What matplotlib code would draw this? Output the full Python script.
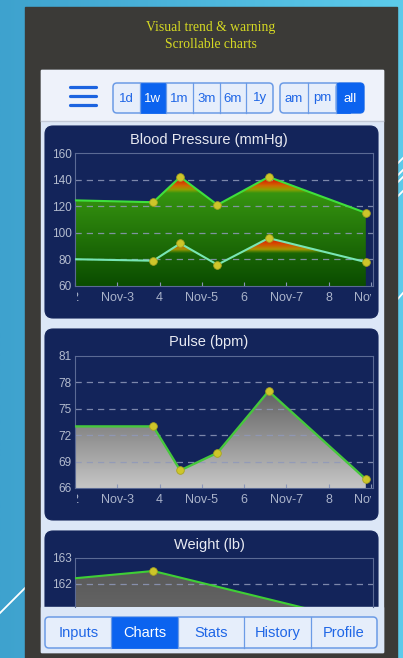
import numpy as np
import matplotlib.pyplot as plt
from matplotlib.patches import Rectangle, FancyBboxPatch
from matplotlib.colors import to_rgba
from matplotlib.transforms import Bbox, TransformedBbox

W, H = 403, 658

# data (x = day of November)
days = [1.2, 3.85, 4.49, 5.37, 6.58, 8.88]
systolic = [125, 123, 142, 121, 142, 115]
diastolic = [80.6, 79, 92, 76, 96, 78]
pulse = [73, 73, 68, 70, 77, 67]
weight_days = [1.2, 3.85, 8.88]
weight = [162.1, 162.5, 160.5]

x_ticks = [2, 3, 4, 5, 6, 7, 8, 9]
x_labels = ['2', 'Nov-3', '4', 'Nov-5', '6', 'Nov-7', '8', 'Nov-9']
bp_ticks = [60, 80, 100, 120, 140, 160]
pulse_ticks = [66, 69, 72, 75, 78, 81]
weight_ticks = [161, 162, 163]

ranges = ['1d', '1w', '1m', '3m', '6m', '1y']
dayparts = ['am', 'pm', 'all']
tabs = ['Inputs', 'Charts', 'Stats', 'History', 'Profile']

SANS = 'Liberation Sans'
BLUE = '#0b63ef'
NAVY = '#13245a'

fig = plt.figure(figsize=(W / 100, H / 100), dpi=100)
bg = fig.add_axes([0, 0, 1, 1])
bg.axis('off')

# blue backdrop
t = np.linspace(0, 1, 200)
c0, c1 = np.array(to_rgba('#3ea2ce')), np.array(to_rgba('#5ccbeb'))
bg.imshow((c0 + (c1 - c0) * t[:, None])[None], extent=[0, W, H, 0], aspect='auto', zorder=0)
for (xa, ya), (xb, yb) in [((0, 613), (25, 588)), ((396, 165), (403, 158)),
                           ((395, 178), (403, 170)), ((396, 184), (403, 177)),
                           ((396, 198), (403, 191)), ((396, 301), (403, 293))]:
    bg.plot([xa, xb], [ya, yb], color='white', lw=1.3, zorder=1)

# phone frame and screen
bg.add_patch(Rectangle((25, 7), 372, 651, color='#3b3a37', zorder=2))
bg.add_patch(Rectangle((41, 70), 342, 582, color='#dce7f7', zorder=3))
bg.add_patch(Rectangle((41, 70), 342, 51, color='#eef2fa', zorder=3))
bg.plot([41, 383], [121, 121], color='#c3cad8', lw=1, zorder=4)

bg.text(211, 27, 'Visual trend & warning', ha='center', va='center',
        color='#d5d923', family='Liberation Serif', size=9.8, zorder=5)
bg.text(211, 44, 'Scrollable charts', ha='center', va='center',
        color='#d5d923', family='Liberation Serif', size=9.8, zorder=5)

# hamburger
for yy in (87, 96, 105):
    bg.plot([70, 96], [yy, yy], color='#1c64e0', lw=2.3, solid_capstyle='round', zorder=5)


def segmented(x0, x1, y0, y1, labels, selected, size):
    n = len(labels)
    w = (x1 - x0) / n
    bg.add_patch(FancyBboxPatch((x0, y0), x1 - x0, y1 - y0,
                                boxstyle='round,pad=0,rounding_size=4',
                                fc='#e6eefb', ec='#6b9be6', lw=1.1, zorder=5))
    for i, lab in enumerate(labels):
        cx = x0 + w * i
        if i == selected:
            if i == n - 1:
                bg.add_patch(FancyBboxPatch((cx, y0), w, y1 - y0,
                                            boxstyle='round,pad=0,rounding_size=4',
                                            fc=BLUE, ec=BLUE, lw=0.5, zorder=6))
                bg.add_patch(Rectangle((cx, y0), w / 2, y1 - y0, fc=BLUE, ec=BLUE, lw=0.5, zorder=6))
            else:
                bg.add_patch(Rectangle((cx, y0), w, y1 - y0, fc=BLUE, ec=BLUE, lw=0.5, zorder=6))
        if i > 0:
            bg.plot([cx, cx], [y0, y1], color='#6b9be6', lw=0.9, zorder=6)
        bg.text(cx + w / 2, (y0 + y1) / 2 + 0.5, lab, ha='center', va='center',
                color='white' if i == selected else '#1f66e6', family=SANS,
                size=size, zorder=7)


segmented(113, 273, 83, 113, ranges, 1, 9.5)
segmented(280, 364, 83, 113, dayparts, 2, 9.5)

# chart cards
for top, bottom in [(126, 318), (329, 520), (531, 650)]:
    bg.add_patch(FancyBboxPatch((45, top), 333, bottom - top,
                                boxstyle='round,pad=0,rounding_size=8',
                                fc=NAVY, ec=NAVY, lw=0.8, zorder=4))
# the cut-off 161 label of the weight chart peeks out above the tab area
bg.text(72, 613, '161', ha='right', va='center', color='#b4bccf', family=SANS,
        size=8.5, zorder=4.5)
bg.add_patch(Rectangle((41, 607), 342, 45, color='#dce7f7', zorder=5))

for ty, title in [(140, 'Blood Pressure (mmHg)'), (342, 'Pulse (bpm)'), (545, 'Weight (lb)')]:
    bg.text(209, ty, title, ha='center', va='center', color='#e8eaf2',
            family=SANS, size=10.5, zorder=6)

# tab bar
segmented(45, 377, 617, 648, tabs, 1, 10.5)

bg.set_xlim(0, W)
bg.set_ylim(H, 0)


def grad_fill(ax, x, y, base, stops, lo, hi):
    poly = ax.fill_between(x, y, base, facecolor='none', edgecolor='none')
    yy = np.linspace(lo, hi, 400)
    sy = [s[0] for s in stops]
    cols = np.array([to_rgba(s[1], s[2] if len(s) > 2 else 1) for s in stops])
    rgba = np.stack([np.interp(yy, sy, cols[:, k]) for k in range(4)], axis=1)
    im = ax.imshow(rgba[:, None, :], extent=[x[0], x[-1], lo, hi], origin='lower',
                   aspect='auto', zorder=1, interpolation='bilinear')
    im.set_clip_path(poly.get_paths()[0], transform=ax.transData)


clipbox = TransformedBbox(Bbox([[77 / W, 0], [371 / W, 1]]), fig.transFigure)


def make_ax(top, bottom, yticks, ylim, show_x=True):
    ax = fig.add_axes([75 / W, 1 - bottom / H, 298 / W, (bottom - top) / H])
    ax.set_facecolor('none')
    for s in ax.spines.values():
        s.set_color('#5b6a94')
        s.set_linewidth(0.8)
    ax.set_xticks(x_ticks, x_labels)
    ax.set_yticks(yticks)
    ax.tick_params(axis='x', direction='in', length=3, color='#8a96b8',
                   labelcolor='#aab3ca', labelsize=9, pad=4)
    ax.tick_params(axis='y', length=0, labelcolor='#b4bccf', labelsize=8.5, pad=2.5)
    for lbl in ax.get_xticklabels() + ax.get_yticklabels():
        lbl.set_family(SANS)
    for lbl in ax.get_xticklabels():
        lbl.set_clip_box(clipbox)
        lbl.set_clip_on(True)
    if not show_x:
        ax.spines['bottom'].set_visible(False)
        ax.tick_params(axis='x', bottom=False, labelbottom=False)
    for g in yticks[1:-1]:
        ax.axhline(g, color='#8f99ba', lw=0.9, ls=(0, (5, 4)), alpha=0.85, zorder=2.5)
    return ax


mk = dict(marker='o', ms=5.5, mfc='#cdc62a', mec='#aaa41f', mew=0.6, zorder=4)

# blood pressure
ax1 = make_ax(153, 286, bp_ticks, (60, 160))
grad_fill(ax1, days, systolic, 60,
          [(60, '#0a4c00'), (130, '#369410'), (132.5, '#8ea000'), (135.5, '#cf6a00'),
           (139.5, '#d82400'), (160, '#d82400')], 60, 160)
grad_fill(ax1, days, diastolic, 60,
          [(60, '#000000', 0), (84.5, '#80a000', 0), (87.5, '#b89a00', 0.9),
           (90.5, '#d25a00'), (94.5, '#d82400'), (160, '#d82400')], 60, 160)
ax1.plot(days, systolic, color='#3fe03c', lw=1.5, **mk)
ax1.plot(days, diastolic, color='#78e6b4', lw=1.5, **mk)
ax1.set_xlim(2, 9.05)
ax1.set_ylim(60, 160)

# pulse
ax2 = make_ax(356, 488, pulse_ticks, (66, 81))
grad_fill(ax2, days, pulse, 66, [(66, '#c6c6c6'), (77, '#626262'), (81, '#626262')], 66, 81)
ax2.plot(days, pulse, color='#46c83c', lw=1.7, **mk)
ax2.set_xlim(2, 9.05)
ax2.set_ylim(66, 81)

# weight (cut off by the tab bar)
ax3 = make_ax(558, 607, weight_ticks, (161.115, 163), show_x=False)
grad_fill(ax3, weight_days, weight, 158,
          [(158, '#8a8a8a'), (161, '#646464'), (163, '#565656')], 158, 163)
ax3.plot(weight_days, weight, color='#3fcf35', lw=1.5, **mk)
ax3.set_xlim(2, 9.05)
ax3.set_ylim(161.115, 163)

fig.savefig('out.png', dpi=100)
